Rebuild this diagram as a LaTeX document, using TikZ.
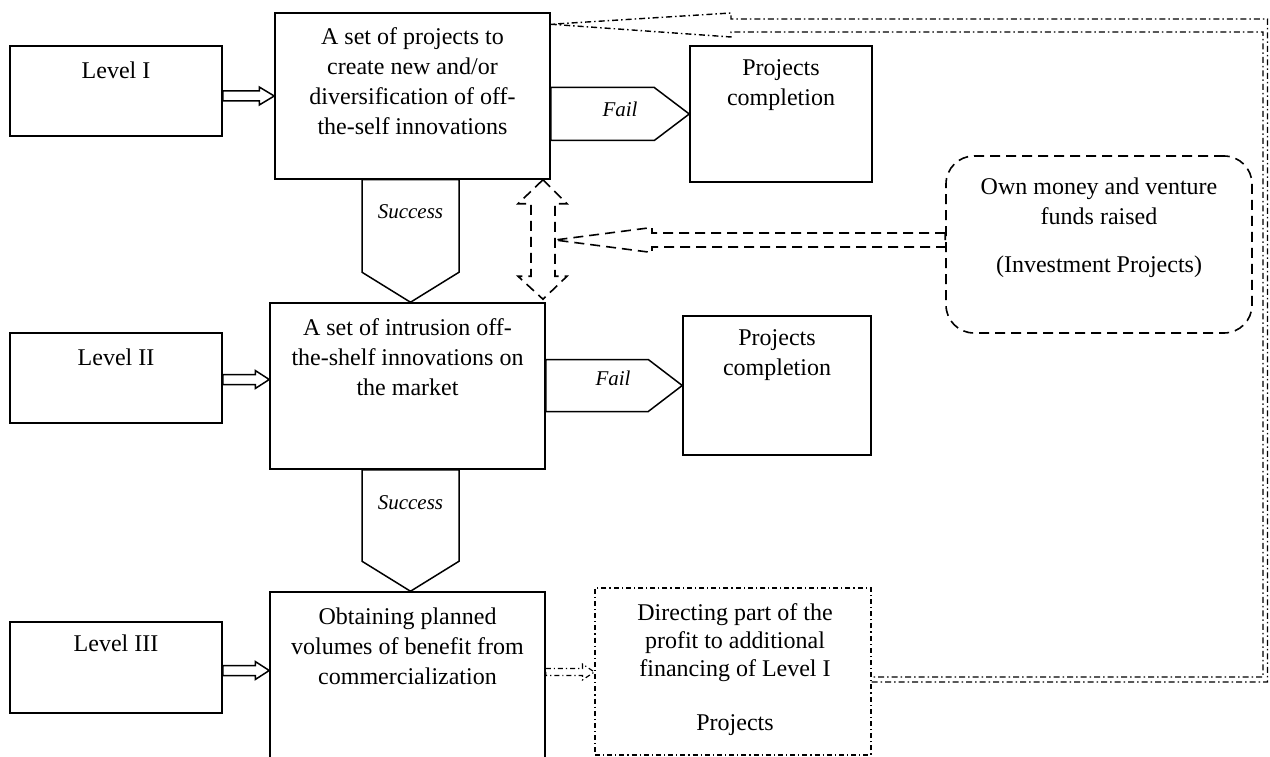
\documentclass[tikz,border=0pt]{standalone}
\usepackage{fontspec}
\setmainfont{Liberation Serif}
\usetikzlibrary{calc}
\newcommand\RArrow[6]{\path[#6] let \p1=(#1), \p2=(#2) in (\x1,{\y1+#3}) -- ({\x2-#5},{\y1+#3}) -- ({\x2-#5},{\y1+#4}) -- (\x2,\y1) -- ({\x2-#5},{\y1-#4}) -- ({\x2-#5},{\y1-#3}) -- (\x1,{\y1-#3}) -- cycle;}
\newcommand\LArrow[6]{\path[#6] let \p1=(#1), \p2=(#2) in (\x1,{\y1+#3}) -- ({\x2+#5},{\y1+#3}) -- ({\x2+#5},{\y1+#4}) -- (\x2,\y1) -- ({\x2+#5},{\y1-#4}) -- ({\x2+#5},{\y1-#3}) -- (\x1,{\y1-#3}) -- cycle;}
\newcommand\DArrow[6]{\path[#6] let \p1=(#1), \p2=(#2) in ({\x1-#3},\y1) -- ({\x1-#3},{\y2+#5}) -- ({\x1-#4},{\y2+#5}) -- (\x1,\y2) -- ({\x1+#4},{\y2+#5}) -- ({\x1+#3},{\y2+#5}) -- ({\x1+#3},\y1) -- cycle;}
\begin{document}
\begin{tikzpicture}[x=1pt,y=-1pt,line join=miter,
  box/.style={draw,line width=1.5pt,rectangle,inner sep=0pt},
  txt/.style={align=center,font=\fontsize{24}{30}\selectfont,inner sep=0pt},
  lbl/.style={font=\fontsize{21}{25}\selectfont\itshape,inner sep=0pt},
  solidarrow/.style={draw,line width=1.5pt},
  dasharr/.style={draw,line width=1.6pt,dash pattern=on 10pt off 6pt},
  ddarr/.style={draw,line width=1.4pt,dash pattern=on 6pt off 3pt on 1.5pt off 3pt},
  ddthin/.style={draw,line width=1.2pt,dash pattern=on 5pt off 3pt on 1.2pt off 3pt},
]
\useasboundingbox (0,0) rectangle (1270,757);

% boxes
\node[box,minimum width=212pt,minimum height=90pt] (L1) at (116,91) {};
\node[box,minimum width=212pt,minimum height=90pt] (L2) at (116,378) {};
\node[box,minimum width=212pt,minimum height=91pt] (L3) at (116,667.5) {};
\node[box,minimum width=275pt,minimum height=166pt] (A) at (412.5,96) {};
\node[box,minimum width=275pt,minimum height=166pt] (B) at (407.5,386) {};
\node[box,minimum width=275pt,minimum height=170pt] (C) at (407.5,677) {};
\node[box,minimum width=182pt,minimum height=136pt] (P1) at (781,114) {};
\node[box,minimum width=188pt,minimum height=139pt] (P2) at (777,385.5) {};
\node[draw,line width=1.6pt,dash pattern=on 10pt off 6pt,rounded corners=28pt,minimum width=306pt,minimum height=177pt,inner sep=0pt] (O) at (1099,244.5) {};
\node[ddthin,minimum width=276pt,minimum height=167pt,inner sep=0pt] (D) at (733,671.5) {};

% texts
\node[txt] (tL1) at (116,70) {Level I};
\node[txt] (tL2) at (116,357) {Level II};
\node[txt] (tL3) at (116,643) {Level III};
\node[txt] (tA) at (412.5,81.5) {A set of projects to\\create new and/or\\diversification of off-\\the-self innovations};
\node[txt] (tB) at (407.5,357) {A set of intrusion off-\\the-shelf innovations on\\the market};
\node[txt] (tC) at (407.5,646) {Obtaining planned\\volumes of benefit from\\commercialization};
\node[txt] (tP1) at (781,85) {Projects\\completion};
\node[txt] (tP2) at (777,355) {Projects\\completion};
\node[txt] (tO1) at (1099,201.5) {Own money and venture\\funds raised};
\node[txt] (tO2) at (1099,267) {(Investment Projects)};
\node[txt,font=\fontsize{24}{28}\selectfont] (tD1) at (735,643) {Directing part of the\\profit to additional\\financing of Level I};
\node[txt] (tD2) at (735,725) {Projects};

% level arrows
\RArrow{L1.east |- A.west}{A.west}{5pt}{9pt}{15pt}{solidarrow}
\RArrow{$(L2.east)+(0,1.5)$}{$(L2.east -| B.west)+(0,1.5)$}{5pt}{9pt}{14pt}{solidarrow}
\RArrow{$(L3.east)+(0,3)$}{$(L3.east -| C.west)+(0,3)$}{5pt}{9pt}{14pt}{solidarrow}

% fail arrows
\RArrow{A.east |- P1.west}{P1.west}{26.5pt}{26.5pt}{35pt}{solidarrow}
\RArrow{B.east |- P2.west}{P2.west}{26pt}{26pt}{34pt}{solidarrow}
\node[lbl] (f1) at (620,109) {Fail};
\node[lbl] (f2) at (613,378) {Fail};

% success arrows
\DArrow{$(A.south)+(-2,0)$}{B.north}{48.5pt}{48.5pt}{30pt}{solidarrow}
\DArrow{$(B.south)+(3,0)$}{C.north}{48.5pt}{48.5pt}{30pt}{solidarrow}
\node[lbl] (s1) at (410.5,212) {Success};
\node[lbl] (s2) at (410.5,503) {Success};

% dashed double arrow and funding arrow
\coordinate (dtop) at ($(A.south)+(130.5,0)$);
\coordinate (dbot) at ($(B.north)+(135.5,-3)$);
\coordinate (dmid) at ($(dtop)+(12,61)$);
\path[dasharr] let \p1=(dtop), \p2=(dbot) in
  (\x1,\y1) -- ({\x1+24pt},{\y1-24pt}) -- ({\x1+12pt},{\y1-24pt}) -- ({\x1+12pt},{\y2+23pt})
  -- ({\x1+24pt},{\y2+23pt}) -- (\x2,\y2) -- ({\x1-25pt},{\y2+23pt}) -- ({\x1-12pt},{\y2+23pt})
  -- ({\x1-12pt},{\y1-24pt}) -- ({\x1-25pt},{\y1-24pt}) -- cycle;
\LArrow{$(O.west)+(0,-4.5)$}{dmid}{7pt}{12.5pt}{97pt}{dasharr}

% return arrow (dash-dot)
\coordinate (rtip) at ($(A.north east)+(0,12)$);
\coordinate (ra) at ($(D.east)+(0,10.5)$);
\coordinate (rb) at ($(D.east)+(0,5.5)$);
\path[ddarr] (ra) -- (1267.5,682) -- (1267.5,19) -- (731,19) -- (731,13) -- (rtip)
  -- (731,37) -- (731,32) -- (1263,32) -- (1263,677) -- (rb);

% small arrow C -> D
\RArrow{$(C.east)+(0,-5)$}{$(C.east -| D.west)+(0,-5)$}{3.5pt}{8pt}{12pt}{ddthin}
\end{tikzpicture}
\end{document}
